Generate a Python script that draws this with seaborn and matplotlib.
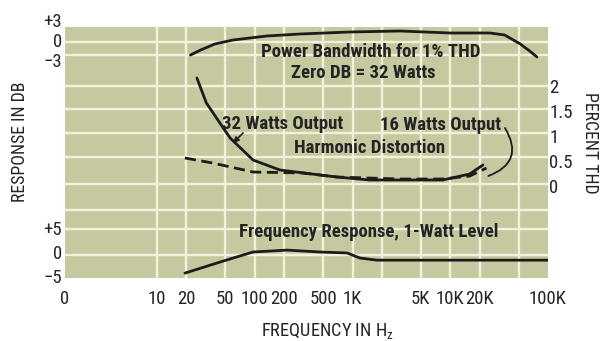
import matplotlib
matplotlib.use("Agg")
import matplotlib.pyplot as plt
from matplotlib import font_manager as fm
import pandas as pd
import seaborn as sns

# ---- data -----------------------------------------------------------------
# Power bandwidth for 1% THD, dB re 32 W
pb_freq = [22, 28, 39, 60, 133, 290, 940, 3060, 9900, 25600, 36000, 52000, 65000, 77000]
pb_db = [-2.25, -1.5, -0.6, 0.0, 0.6, 0.9, 1.2, 1.35, 1.05, 1.05, 0.75, -0.6, -1.65, -2.55]

# Harmonic distortion, percent
thd32_freq = [25.6, 32, 44, 56, 96, 181, 465, 690, 1500, 8400, 15800, 21600]
thd32_pct = [2.16, 1.66, 1.26, 0.96, 0.52, 0.32, 0.22, 0.18, 0.12, 0.12, 0.24, 0.42]
thd16_freq = [19.3, 37, 96, 310, 690, 3060, 8400, 15800, 23500]
thd16_pct = [0.56, 0.46, 0.28, 0.26, 0.18, 0.14, 0.14, 0.20, 0.36]

# Frequency response at 1 W, dB
fr_freq = [19.3, 44, 96, 214, 465, 880, 1190, 1780, 7300, 100000]
fr_db = [-4.4, -2.1, 0.0, 0.4, 0.0, -0.2, -1.25, -1.7, -1.7, -1.7]

# Axis ticks
x_ticks = [1.145, 10, 20, 50, 100, 200, 500, 1000, 5000, 10000, 20000, 100000]
x_labels = ["0", "10", "20", "50", "100", "200", "500", "1K", "5K", "10K", "20K", "100K"]
x_grid = [10, 20, 50, 100, 200, 500, 1000, 2000, 5000, 10000, 20000, 50000]
pb_ticks = [3, 0, -3]
pb_labels = ["+3", "0", "\u22123"]
thd_ticks = [0, 0.5, 1, 1.5, 2]
thd_labels = ["0", "0.5", "1", "1.5", "2"]
fr_ticks = [5, 0, -5]
fr_labels = ["+5", "0", "\u22125"]

# ---- style ----------------------------------------------------------------
sns.set_style("white")
installed = {f.name for f in fm.fontManager.ttflist}
narrow = [n for n in ("Liberation Sans Narrow", "Roboto Condensed", "Open Sans Condensed",
                      "DejaVu Sans Condensed") if n in installed]
FONT = narrow + ["DejaVu Sans"]
plt.rcParams["font.family"] = FONT
plt.rcParams["font.stretch"] = "condensed"
plt.rcParams["mathtext.fontset"] = "custom"
plt.rcParams["mathtext.rm"] = FONT[0]
plt.rcParams["mathtext.sf"] = FONT[0]
INK = "#242424"
PAPER = "#c6c99f"
GRID = "#f3f1dc"
LINE = "#1c1c1c"

W, H = 606, 341
fig = plt.figure(figsize=(W / 100, H / 100), dpi=100)
fig.patch.set_facecolor("white")


def box(left, top, right, bottom):
    return [left / W, 1 - bottom / H, (right - left) / W, (bottom - top) / H]


XLIM = (1.145, 100000)
TICK_FS = 13.5

# Background panel with the grid and the frequency scale
bg = fig.add_axes(box(65, 27, 548, 278))
bg.set_facecolor(PAPER)
bg.set_xscale("log")
bg.set_xlim(*XLIM)
bg.set_ylim(278, 27)
bg.set_xticks(x_ticks)
bg.set_xticklabels(x_labels)
bg.set_xticks([], minor=True)
bg.set_yticks([])
bg.grid(False)
for f in x_grid:
    bg.axvline(f, color=GRID, lw=1.7, zorder=0.5)
for y in (42, 55, 86, 109, 133, 157, 184, 210, 229, 255):
    bg.axhline(y, color=GRID, lw=1.7, zorder=0.5)
bg.tick_params(axis="x", which="both", length=0, pad=9, labelsize=TICK_FS, labelcolor=INK)
bg.tick_params(axis="y", which="both", length=0)
for s in bg.spines.values():
    s.set_visible(False)


def overlay(rect, ylim):
    ax = fig.add_axes(rect)
    ax.patch.set_visible(False)
    ax.set_xscale("log")
    ax.set_xlim(*XLIM)
    ax.set_ylim(*ylim)
    ax.set_xticks([])
    ax.set_xticks([], minor=True)
    for s in ax.spines.values():
        s.set_visible(False)
    ax.grid(False)
    return ax


LW = 2.0

# Power bandwidth panel (dB)
ax_pb = overlay(box(65, 40 - 4 * 20 / 3, 548, 40 + 4 * 20 / 3), (-4, 4))
sns.lineplot(data=pd.DataFrame({"f": pb_freq, "db": pb_db}), x="f", y="db",
             ax=ax_pb, color=LINE, lw=LW, sort=False)
ax_pb.set_yticks(pb_ticks)
ax_pb.set_yticklabels(pb_labels)
ax_pb.tick_params(axis="y", length=0, pad=2, labelsize=TICK_FS, labelcolor=INK)

# Harmonic distortion panel (percent)
ax_thd = overlay(box(65, 186 - 2.6 * 50, 548, 186 + 0.4 * 50), (-0.4, 2.6))
sns.lineplot(data=pd.DataFrame({"f": thd32_freq, "p": thd32_pct}), x="f", y="p",
             ax=ax_thd, color=LINE, lw=LW, sort=False)
sns.lineplot(data=pd.DataFrame({"f": thd16_freq, "p": thd16_pct}), x="f", y="p",
             ax=ax_thd, color=LINE, lw=LW, sort=False, linestyle=(0, (4, 2)))
ax_thd.yaxis.tick_right()
ax_thd.set_yticks(thd_ticks)
ax_thd.set_yticklabels(thd_labels)
ax_thd.tick_params(axis="y", length=0, pad=1, labelsize=TICK_FS, labelcolor=INK)

# Frequency response panel (dB)
ax_fr = overlay(box(65, 252 - 6.5 * 4.8, 548, 252 + 6.5 * 4.8), (-6.5, 6.5))
sns.lineplot(data=pd.DataFrame({"f": fr_freq, "db": fr_db}), x="f", y="db",
             ax=ax_fr, color=LINE, lw=LW, sort=False)
ax_fr.set_yticks(fr_ticks)
ax_fr.set_yticklabels(fr_labels)
ax_fr.tick_params(axis="y", length=0, pad=2, labelsize=TICK_FS, labelcolor=INK)

for a in (ax_pb, ax_thd, ax_fr):
    a.set_xlabel("")
    a.set_ylabel("")

# Curve captions
cap = dict(fontsize=13.5, fontweight="bold", color=INK, family=FONT)
ax_pb.text(1545, -1.8, "Power Bandwidth for 1% THD", ha="center", va="center", **cap)
ax_pb.text(1280, -4.95, "Zero DB = 32 Watts", ha="center", va="center", **cap)
ax_thd.text(46.3, 1.24, "32 Watts Output", ha="left", va="center", **cap)
ax_thd.text(1910, 1.22, "16 Watts Output", ha="left", va="center", **cap)
ax_thd.text(1500, 0.76, "Harmonic Distortion", ha="center", va="center", **cap)
ax_fr.text(1480, 4.17, "Frequency Response, 1-Watt Level", ha="center", va="center", **cap)

ax_thd.annotate("", xy=(60, 0.86), xytext=(76, 1.06),
                arrowprops=dict(arrowstyle="-|>", color=LINE, lw=1.2,
                                mutation_scale=8, shrinkA=0, shrinkB=0))
ax_thd.annotate("", xy=(24500, 0.2), xytext=(36300, 1.16),
                arrowprops=dict(arrowstyle="-", color=LINE, lw=1.3,
                                connectionstyle="arc3,rad=-0.6",
                                shrinkA=0, shrinkB=0))

# Axis titles
fig.text(20 / W, 1 - 142 / H, "RESPONSE IN DB", rotation=90, ha="center", va="center",
         fontsize=12.8, color=INK, family=FONT)
fig.text(590 / W, 1 - 143 / H, "PERCENT THD", rotation=270, ha="center", va="center",
         fontsize=12.8, color=INK, family=FONT)
fig.text(327 / W, 1 - 331 / H, "FREQUENCY IN H$_{\\mathrm{z}}$", ha="center", va="center",
         fontsize=13.2, color=INK, family=FONT)

fig.savefig("out.png", dpi=100, facecolor="white")
